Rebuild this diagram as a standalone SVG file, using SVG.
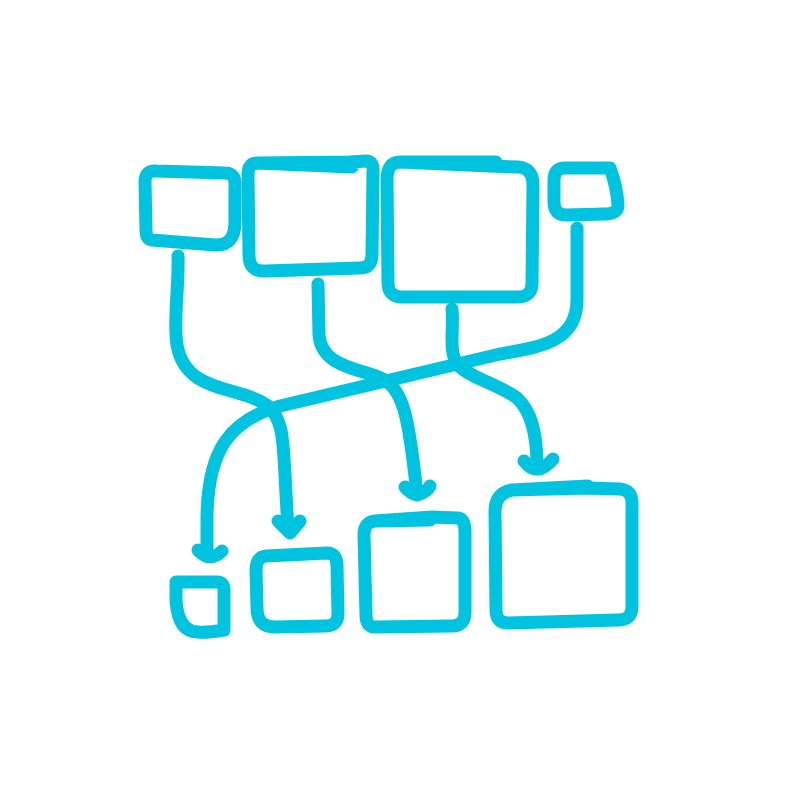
<svg xmlns="http://www.w3.org/2000/svg" width="800" height="800" viewBox="0 0 800 800">
<style>
.s{fill:none;stroke:#00C3E0;stroke-width:13;stroke-linecap:round;stroke-linejoin:round}
</style>
<rect width="800" height="800" fill="#fff"/>
<g id="nodeA"><path class="s" d="M156,171 L225,173 Q236,173 235,186 L235,222 Q235,246 215,245 L152,240 Q146,239 146,230 L145,182 Q145,170 156,171 Z"/></g>
<g id="nodeB"><path class="s" d="M257,163 L352,167 M350,162 L366,161 Q374,161 373,172 L372,255 Q372,268 360,268 L265,271 Q249,272 249,255 L248,175 Q248,163 257,163 Z"/></g>
<g id="nodeC"><path class="s" d="M400,162 L496,162 M490,166 L518,167 Q533,168 533,185 L532,283 Q532,297 518,297 L402,297 Q388,297 388,282 L387,180 Q387,162 400,162 Z"/></g>
<g id="nodeD"><path class="s" d="M565,168 L610,168 Q617,187 618,205 Q618,214 605,214 L566,215 Q554,215 554,202 L554,180 Q554,168 565,168 Z"/></g>
<g id="nodeE"><path class="s" d="M176,582 L217,582 Q224,582 224,590 L224,630 Q205,633 198,632 Q178,632 176,600 Z"/></g>
<g id="nodeF"><path class="s" d="M266,556 L327,553 Q337,553 337,566 L338,614 Q338,626 325,626 L275,627 Q257,627 257,608 L256,570 Q256,557 266,556 Z"/></g>
<g id="nodeG"><path class="s" d="M375,521 L430,520 M432,517 L458,518 Q465,519 465,532 L465,612 Q465,626 452,626 L375,627 Q366,627 366,615 L364,535 Q364,522 375,521 Z"/></g>
<g id="nodeH"><path class="s" d="M512,490 L588,486 M585,488 L620,489 Q632,490 632,503 L632,607 Q632,620 618,620 L508,623 Q496,623 496,610 L495,512 Q495,493 512,490 Z"/></g>
<g id="connectors">
<path class="s" d="M178,256 C179,290 173,320 177,345 C186,395 240,385 268,406 C284,420 283,445 285,475 L288,530"/>
<path class="s" d="M278,521 L290,533 L300,521"/>
<path class="s" d="M318,284 L319,335 C322,368 360,368 383,379 C404,390 409,420 417,494"/>
<path class="s" d="M405,487 Q410,493 417,495 Q427,492 430,486"/>
<path class="s" d="M452,309 C454,330 448,352 458,365 C470,378 500,385 517,398 C530,410 537,430 537,466"/>
<path class="s" d="M524,461 Q537,478 553,459"/>
<path class="s" d="M577,228 L577,300 C577,342 540,347 500,354 L280,406 C230,420 207,450 207,520 L207,556"/>
<path class="s" d="M198,550 Q210,563 222,551"/>
</g>
</svg>
